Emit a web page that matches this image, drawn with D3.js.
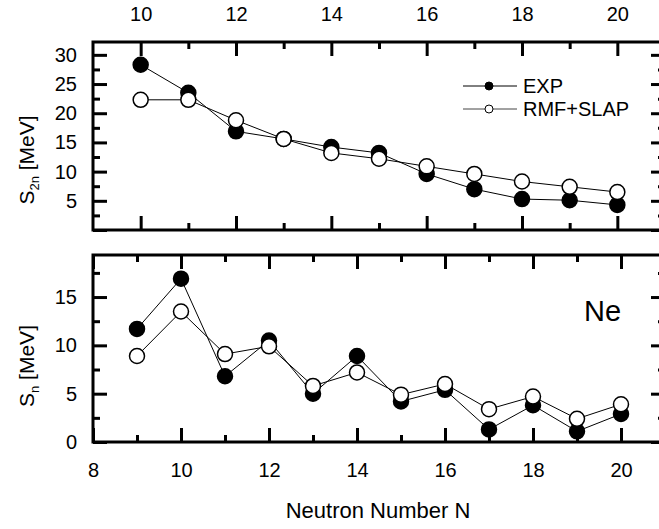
<!DOCTYPE html>
<html>
<head>
<meta charset="utf-8">
<script src="https://cdn.jsdelivr.net/npm/d3@7"></script>
<style>
  body { margin: 0; background: #fff; }
  svg, svg text { font-family: "Liberation Sans", Arial, sans-serif; }
  .tick line { stroke: #000; stroke-width: 3; }
  .tick text { font-size: 20px; fill: #000; font-family: "Liberation Sans", Arial, sans-serif; }
</style>
</head>
<body>
<div id="chart"></div>
<script>
// S2n panel (top), N = 10..20
var nTop = [10, 11, 12, 13, 14, 15, 16, 17, 18, 19, 20];
var s2nExp = [28.3, 23.5, 16.9, 15.6, 14.2, 13.2, 9.6, 7.0, 5.3, 5.1, 4.3];
var s2nRmf = [22.3, 22.3, 18.8, 15.6, 13.2, 12.2, 10.9, 9.6, 8.3, 7.4, 6.5];

// Sn panel (bottom), N = 9..20
var nBot = [9, 10, 11, 12, 13, 14, 15, 16, 17, 18, 19, 20];
var snExp = [11.7, 16.9, 6.8, 10.5, 5.0, 8.9, 4.2, 5.4, 1.3, 3.8, 1.1, 2.9];
var snRmf = [8.9, 13.5, 9.1, 9.9, 5.8, 7.2, 4.9, 6.0, 3.4, 4.7, 2.4, 3.9];

var xTickLabels = [10, 12, 14, 16, 18, 20];
var xTickLabelsBot = [8, 10, 12, 14, 16, 18, 20];
var s2nTicks = [5, 10, 15, 20, 25, 30];
var snTicks = [0, 5, 10, 15];

var width = 659, height = 529;
var left = 93, right = 665;

var svg = d3.select("#chart").append("svg")
    .attr("width", width)
    .attr("height", height);

// scales
var xTop = d3.scaleLinear().domain([9, 21]).range([left, right]);
var xBot = d3.scaleLinear().domain([8, 21]).range([left, right]);
var yTop = d3.scaleLinear().domain([0, 32.2]).range([230, 42]);
var yBot = d3.scaleLinear().domain([0, 19.35]).range([442, 255]);

var major = 14, minor = 7;

// draws inward ticks on all four sides of one panel
function frameAxes(x, y, xMajor, xMinor, yMajor, yMinor, labelTop, labelBottom) {
  var y0 = y.range()[0], y1 = y.range()[1];

  var axes = [
    [d3.axisTop(x).tickValues(xMajor).tickSize(-major), y1, labelTop],
    [d3.axisTop(x).tickValues(xMinor).tickSize(-minor), y1, false],
    [d3.axisBottom(x).tickValues(xMajor).tickSize(-major), y0, labelBottom],
    [d3.axisBottom(x).tickValues(xMinor).tickSize(-minor), y0, false]
  ];
  axes.forEach(function(a) {
    var ax = a[0].tickPadding(a[2] ? 21 : 0);
    if (!a[2]) ax.tickFormat("");
    var g = svg.append("g")
        .attr("transform", "translate(0," + a[1] + ")")
        .call(ax);
    g.attr("font-family", null);
    g.select(".domain").remove();
  });

  var yaxes = [
    [d3.axisLeft(y).tickValues(yMajor).tickSize(-major), left, true],
    [d3.axisLeft(y).tickValues(yMinor).tickSize(-minor), left, false],
    [d3.axisRight(y).tickValues(yMajor).tickSize(-major), right, false],
    [d3.axisRight(y).tickValues(yMinor).tickSize(-minor), right, false]
  ];
  yaxes.forEach(function(a) {
    var ax = a[0].tickPadding(a[2] ? 16 : 0);
    if (!a[2]) ax.tickFormat("");
    var g = svg.append("g")
        .attr("transform", "translate(" + a[1] + ",0)")
        .call(ax);
    g.attr("font-family", null);
    g.select(".domain").remove();
  });

  svg.append("rect")
      .attr("x", left)
      .attr("y", y1)
      .attr("width", right - left)
      .attr("height", y0 - y1)
      .attr("fill", "none")
      .attr("stroke", "#000")
      .attr("stroke-width", 3);
}

// top panel: labels on top only
frameAxes(xTop, yTop,
  xTickLabels, [11, 13, 15, 17, 19],
  [0].concat(s2nTicks), [2.5, 7.5, 12.5, 17.5, 22.5, 27.5],
  true, false);
// hide the unlabeled 0 on the top panel
svg.selectAll("text").filter(function() { return this.textContent == "0"; }).remove();

frameAxes(xBot, yBot,
  xTickLabelsBot, [9, 11, 13, 15, 17, 19],
  snTicks, [2.5, 7.5, 12.5, 17.5],
  false, true);

// series
function drawSeries(x, y, ns, vals, filled) {
  var line = d3.line()
      .x(function(d, i) { return x(ns[i]); })
      .y(function(d) { return y(d); });
  svg.append("path")
      .attr("d", line(vals))
      .attr("fill", "none")
      .attr("stroke", "#000")
      .attr("stroke-width", 1);
  svg.append("g").selectAll("circle")
      .data(vals)
    .enter().append("circle")
      .attr("cx", function(d, i) { return x(ns[i]); })
      .attr("cy", function(d) { return y(d); })
      .attr("r", 7.5)
      .attr("fill", filled ? "#000" : "#fff")
      .attr("stroke", "#000")
      .attr("stroke-width", 1.5);
}

drawSeries(xTop, yTop, nTop, s2nExp, true);
drawSeries(xTop, yTop, nTop, s2nRmf, false);
drawSeries(xBot, yBot, nBot, snExp, true);
drawSeries(xBot, yBot, nBot, snRmf, false);

// legend
var legend = [["EXP", true, 86], ["RMF+SLAP", false, 109]];
legend.forEach(function(l) {
  svg.append("line")
      .attr("x1", 463).attr("x2", 517)
      .attr("y1", l[2]).attr("y2", l[2])
      .attr("stroke", l[1] ? "#000" : "#444")
      .attr("stroke-width", 1);
  svg.append("circle")
      .attr("cx", 489).attr("cy", l[2])
      .attr("r", 4)
      .attr("fill", l[1] ? "#000" : "#fff")
      .attr("stroke", "#000")
      .attr("stroke-width", 1);
  svg.append("text")
      .attr("x", 523).attr("y", l[2] + 7)
      .attr("font-size", 20)
      .text(l[0]);
});

svg.append("text")
    .attr("x", 584).attr("y", 321)
    .attr("font-size", 29)
    .text("Ne");

// axis titles
svg.append("text")
    .attr("x", (left + right) / 2 - 1)
    .attr("y", 518)
    .attr("text-anchor", "middle")
    .attr("font-size", 22)
    .text("Neutron Number N");

function yTitle(cy, sub) {
  var t = svg.append("text")
      .attr("transform", "translate(34," + cy + ") rotate(-90)")
      .attr("text-anchor", "middle")
      .attr("font-size", 21);
  t.append("tspan").text("S");
  t.append("tspan").attr("font-size", 13).attr("dy", 5).text(sub);
  t.append("tspan").attr("dy", -5).text(" [MeV]");
}
yTitle(160, "2n");
yTitle(366, "n");
</script>
</body>
</html>
